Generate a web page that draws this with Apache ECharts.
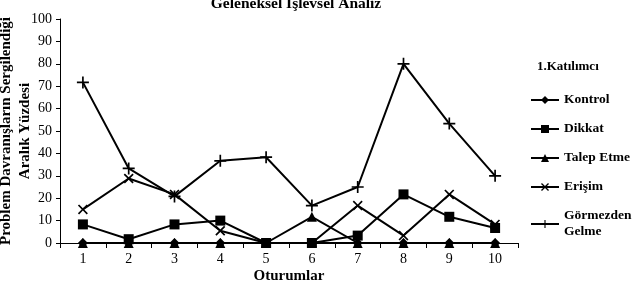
<!DOCTYPE html>
<html>
<head>
<meta charset="utf-8">
<script src="https://cdn.jsdelivr.net/npm/echarts@6/dist/echarts.min.js"></script>
<style>
  html, body { margin: 0; padding: 0; background: #fff; }
  #grafico { width: 639px; height: 287px; }
</style>
</head>
<body>
<div id="grafico"></div>
<script>
// datos del grafico
const oturumlar = ["1", "2", "3", "4", "5", "6", "7", "8", "9", "10"];
const kontrol = [0, 0, 0, 0, 0, 0, 0, 0, 0, 0];
const dikkat = [8.3, 1.7, 8.3, 10, 0, 0, 3.3, 21.7, 11.7, 6.7];
const talepEtme = [0, 0, 0, 0, 0, 11.7, 0, 0, 0, 0];
const erisim = [15, 28.8, 21.7, 5.5, 0, 0, 16.7, 3.3, 21.7, 8.3];
const gormezden = [71.7, 33.3, 20.8, 36.7, 38.3, 16.7, 25, 80, 53.3, 30];

const fuente = "Liberation Serif";
const simboloX = "path://M0,1.2 L1.2,0 L5,3.8 L8.8,0 L10,1.2 L6.2,5 L10,8.8 L8.8,10 L5,6.2 L1.2,10 L0,8.8 L3.8,5 Z";
const simboloMas = "path://M4.3,0 H5.7 V4.3 H10 V5.7 H5.7 V10 H4.3 V5.7 H0 V4.3 H4.3 Z";

function serie(name, data, symbol, size) {
  return {
    name: name,
    type: "line",
    data: data,
    symbol: symbol,
    symbolSize: size,
    lineStyle: { color: "#000", width: 2 },
    itemStyle: { color: "#000" },
  };
}

const option = {
  animation: false,
  title: [
    {
      text: "Geleneksel İşlevsel Analiz",
      left: 291,
      textAlign: "center",
      top: -9,
      textStyle: { fontFamily: fuente, fontSize: 15.5, fontWeight: "bold", color: "#000" },
    },
    {
      text: "1.Katılımcı",
      left: 532,
      top: 55,
      textStyle: { fontFamily: fuente, fontSize: 13, fontWeight: "bold", color: "#000" },
    },
  ],
  legend: {
    orient: "vertical",
    left: 530,
    top: 92,
    padding: 0,
    itemWidth: 28,
    itemHeight: 10,
    itemGap: 13,
    textStyle: { fontFamily: fuente, fontSize: 13.5, fontWeight: "bold", color: "#000", lineHeight: 16 },
    data: ["Kontrol", "Dikkat", "Talep Etme", "Erişim", "Görmezden\nGelme"],
  },
  grid: { left: 60, right: 121, top: 19, bottom: 44, containLabel: false, outerBoundsMode: "none" },
  xAxis: {
    type: "category",
    data: oturumlar,
    boundaryGap: true,
    name: "Oturumlar",
    nameLocation: "middle",
    nameGap: 26,
    nameMoveOverlap: false,
    nameTextStyle: { fontFamily: fuente, fontSize: 15, fontWeight: "bold", color: "#000" },
    axisLine: { lineStyle: { color: "#000", width: 1 } },
    axisTick: { show: true, inside: false, length: 5, alignWithLabel: false, lineStyle: { color: "#000" } },
    axisLabel: { fontFamily: fuente, fontSize: 14, color: "#000", margin: 9 },
  },
  yAxis: {
    type: "value",
    min: 0,
    max: 100,
    interval: 10,
    name: "Problem Davranışların Sergilendiği\nAralık Yüzdesi",
    nameLocation: "middle",
    nameGap: 25,
    nameMoveOverlap: false,
    nameTextStyle: { fontFamily: fuente, fontSize: 15, fontWeight: "bold", color: "#000", lineHeight: 19 },
    axisLine: { show: true, lineStyle: { color: "#000", width: 1 } },
    axisTick: { show: true, length: 4, lineStyle: { color: "#000" } },
    splitLine: { show: false },
    axisLabel: { fontFamily: fuente, fontSize: 14, color: "#000", margin: 8 },
  },
  series: [
    serie("Kontrol", kontrol, "diamond", 10),
    serie("Dikkat", dikkat, "rect", 10),
    serie("Talep Etme", talepEtme, "triangle", 10),
    serie("Erişim", erisim, simboloX, 10),
    serie("Görmezden\nGelme", gormezden, simboloMas, 12),
  ],
};

const miGrafico = echarts.init(document.getElementById("grafico"));
miGrafico.setOption(option);
</script>
</body>
</html>
